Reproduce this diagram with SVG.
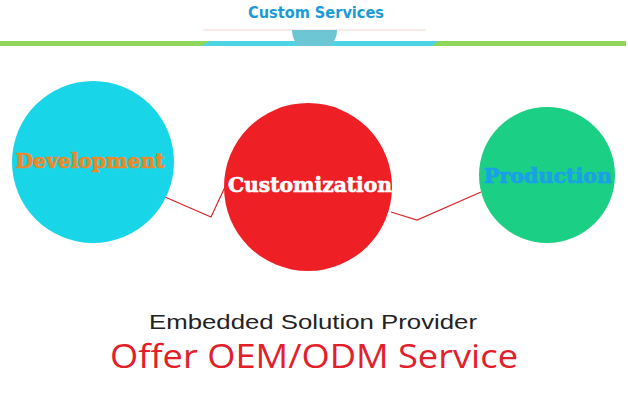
<svg xmlns="http://www.w3.org/2000/svg" width="628" height="413" viewBox="0 0 628 413">
<style>
.lbl{font-family:"DejaVu Serif","Liberation Serif",serif;font-weight:bold;stroke-width:0.7;}
.conn{fill:none;stroke:#d8242a;stroke-width:1.2;}
</style>
<rect width="628" height="413" fill="#ffffff"/>
<g id="header">
<text x="316" y="18" text-anchor="middle" font-family="DejaVu Sans, Liberation Sans, sans-serif" font-weight="bold" font-size="15" fill="#1b9bd6" textLength="136" lengthAdjust="spacingAndGlyphs">Custom Services</text>
<line x1="203" y1="30" x2="426" y2="30" stroke="#f3d8cf" stroke-width="1"/>
<rect x="0" y="41" width="626" height="5" fill="#8fd65a"/>
<polygon points="210,41 438,41 432,46 201,46" fill="#4dd5e6"/>
<path d="M292,30 L337,30 A22.5,22.5 0 0 1 330.3,46 L298.7,46 A22.5,22.5 0 0 1 292,30 Z" fill="#6cc6d4"/>
</g>
<g id="connectors">
<polyline class="conn" points="165,197 211,217 225,187"/>
<polyline class="conn" points="391,212 417,220 481,192"/>
</g>
<g id="development">
<circle cx="93" cy="162" r="81" fill="#18d6e8"/>
<text class="lbl" x="90" y="168" text-anchor="middle" font-size="20" fill="#e8892a" stroke="#e8892a" textLength="149" lengthAdjust="spacingAndGlyphs">Development</text>
</g>
<g id="customization">
<circle cx="308" cy="187" r="84" fill="#ee1f25"/>
<text class="lbl" x="310" y="192" text-anchor="middle" font-size="21" fill="#ffffff" stroke="#ffffff" textLength="164" lengthAdjust="spacingAndGlyphs">Customization</text>
</g>
<g id="production">
<circle cx="547" cy="175" r="68" fill="#1bcf84"/>
<text class="lbl" x="548" y="183" text-anchor="middle" font-size="20" fill="#1aa0e6" stroke="#1aa0e6" textLength="128" lengthAdjust="spacingAndGlyphs">Production</text>
</g>
<g id="footer">
<text x="313" y="329" text-anchor="middle" font-family="Liberation Sans, Arial, sans-serif" font-size="21" fill="#222222" textLength="328" lengthAdjust="spacingAndGlyphs">Embedded Solution Provider</text>
<text x="314" y="368" text-anchor="middle" font-family="Open Sans, Noto Sans, sans-serif" font-size="32" fill="#e3202a" textLength="408" lengthAdjust="spacingAndGlyphs">Offer OEM/ODM Service</text>
</g>
</svg>
